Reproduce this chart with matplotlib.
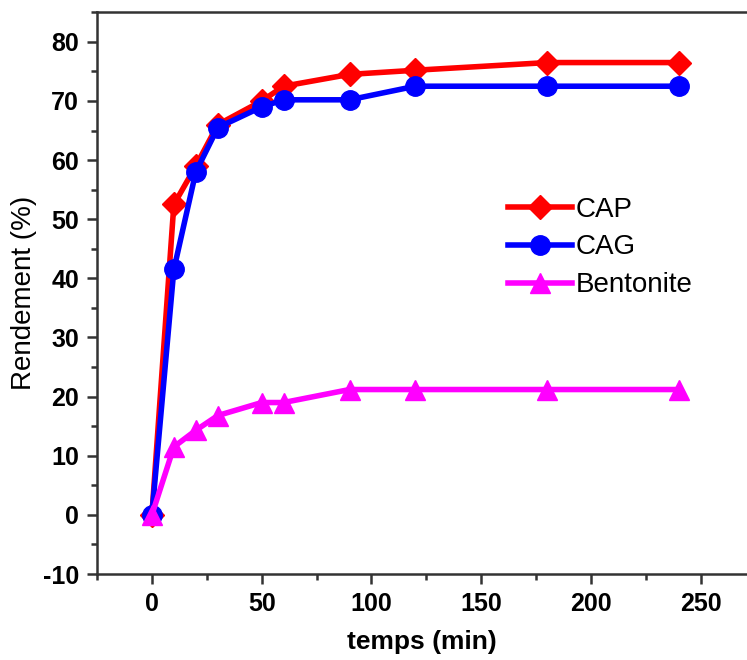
import matplotlib
matplotlib.use("Agg")
import matplotlib.pyplot as plt
from matplotlib.ticker import MultipleLocator

time_min = [0, 10, 20, 30, 50, 60, 90, 120, 180, 240]
cap = [0, 52.5, 59, 66, 70, 72.5, 74.5, 75.2, 76.5, 76.5]
cag = [0, 41.5, 58, 65.5, 69, 70.2, 70.2, 72.5, 72.5, 72.5]
bentonite = [0, 11.5, 14.3, 16.8, 19, 19, 21.2, 21.2, 21.2, 21.2]

plt.rcParams['font.family'] = ['Liberation Sans', 'DejaVu Sans']
plt.rcParams['axes.unicode_minus'] = False

fig = plt.figure(figsize=(7.47, 6.6), dpi=100)
ax = fig.add_axes([97/747, 1-574/660, 1-97/747, (574-12.3)/660])

lw = 4.0
ax.plot(time_min, cap, color='#ff0000', marker='D', markersize=12, lw=lw, label='CAP', zorder=3)
ax.plot(time_min, cag, color='#0000ff', marker='o', markersize=14, lw=lw, label='CAG', zorder=4)
ax.plot(time_min, bentonite, color='#ff00ff', marker='^', markersize=14, lw=lw, label='Bentonite', zorder=5)

ax.set_xlim(-25, 271)
ax.set_ylim(-10, 85)
ax.xaxis.set_major_locator(MultipleLocator(50))
ax.xaxis.set_minor_locator(MultipleLocator(25))
ax.yaxis.set_major_locator(MultipleLocator(10))
ax.yaxis.set_minor_locator(MultipleLocator(5))

for s in ['left', 'bottom', 'top']:
    ax.spines[s].set_linewidth(1.8)
    ax.spines[s].set_color('#333333')
ax.spines['right'].set_visible(False)

ax.tick_params(which='major', direction='out', length=7, width=1.8, color='#333333',
               labelsize=18, pad=6)
ax.tick_params(which='minor', direction='out', length=4, width=1.8, color='#333333')
ax.tick_params(axis='x', which='both', top=False)
for lab in ax.get_xticklabels() + ax.get_yticklabels():
    lab.set_fontweight('bold')

ax.set_xlabel('temps (min)', fontsize=19, fontweight='bold', labelpad=10)
ax.set_ylabel('Rendement (%)', fontsize=20, labelpad=4)

ax.legend(loc='upper left', bbox_to_anchor=(0.632, 0.672), frameon=False,
          fontsize=20, handlelength=2.3, handletextpad=0.15, labelspacing=0.43,
          borderpad=0, borderaxespad=0)

fig.savefig('out.png', dpi=100)
